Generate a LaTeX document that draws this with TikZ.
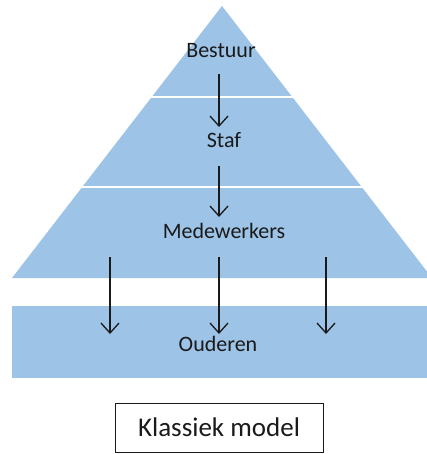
\documentclass[tikz,border=0pt]{standalone}
\usepackage{fontspec}
\setmainfont{Carlito}
\usetikzlibrary{arrows.meta}
\definecolor{laag}{HTML}{9DC3E6}
\definecolor{tekst}{HTML}{1A1A1A}

\begin{document}
\begin{tikzpicture}[
    x=1pt, y=-1pt,
    lbl/.style={anchor=base, inner sep=0pt, text=tekst, font=\fontsize{22}{26}\selectfont},
    kader/.style={draw=tekst, line width=1pt, minimum width=208pt, minimum height=49pt,
                  text=tekst, font=\fontsize{27}{32}\selectfont},
    arr/.style={-{Straight Barb[length=10pt,width=18pt,line width=1.3pt]}, line width=1.3pt, tekst}
  ]
  \clip (0,0) rectangle (427,454);

  % Pyramid with its two white separations, and the band below.
  \fill[laag] (222,6) -- (432,278) -- (12,278) -- cycle;
  \draw[white, line width=2pt] (0,97) -- (427,97);
  \draw[white, line width=2pt] (0,187) -- (427,187);
  \fill[laag] (12,306) rectangle (427,378);

  \node[lbl] (bestuur) at (221,58)  {Bestuur};
  \node[lbl] (staf)    at (224,148) {Staf};
  \node[lbl] (medew)   at (224,238) {Medewerkers};
  \node[lbl] (ouderen) at (218,351) {Ouderen};

  \node[kader] (model) at (219,427.5) {Klassiek model};

  \draw[arr] ([xshift=-2pt,yshift=-16pt]bestuur.base) -- ([xshift=-5pt,yshift=21pt]staf.base);
  \draw[arr] ([xshift=-5pt,yshift=-18pt]staf.base) -- ([xshift=-5pt,yshift=21pt]medew.base);
  \foreach \dx/\ex in {-114/-108, -5/1, 102/108}
    \draw[arr] ([xshift=\dx pt,yshift=-19pt]medew.base) -- ([xshift=\ex pt,yshift=17pt]ouderen.base);
\end{tikzpicture}
\end{document}
